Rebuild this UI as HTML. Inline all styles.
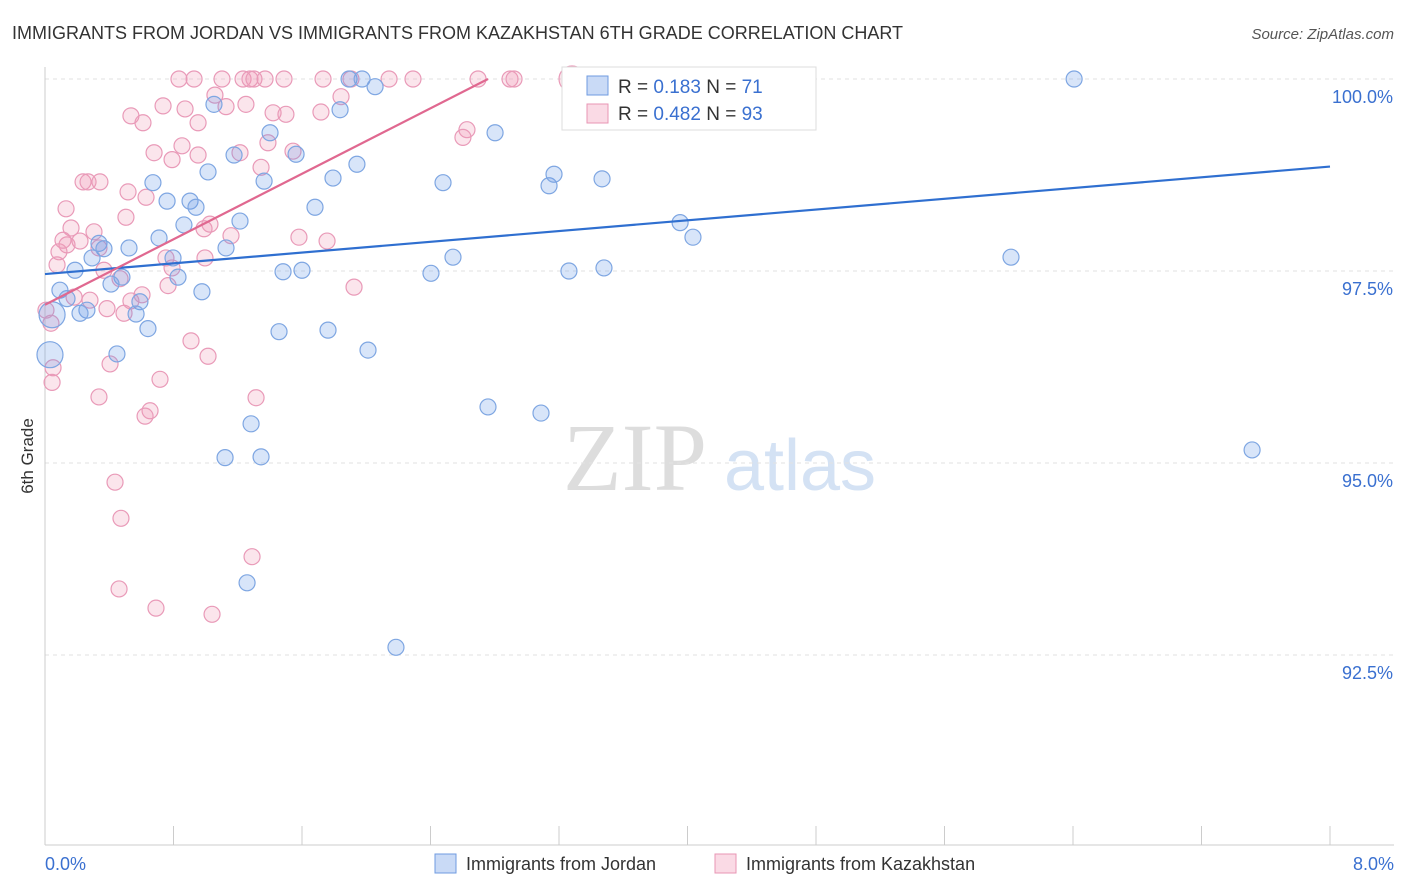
<!DOCTYPE html>
<html><head><meta charset="utf-8"><style>
body{margin:0;background:#fff;font-family:"Liberation Sans",sans-serif;}
#wrap{position:relative;width:1406px;height:892px;overflow:hidden;}
</style></head><body>
<div id="wrap">
<svg id="svg" width="1406" height="892" xmlns="http://www.w3.org/2000/svg">
<text x="12" y="39" font-size="18" fill="#333">IMMIGRANTS FROM JORDAN VS IMMIGRANTS FROM KAZAKHSTAN 6TH GRADE CORRELATION CHART</text>
<text x="1394" y="39" font-size="15" fill="#555" font-style="italic" text-anchor="end">Source: ZipAtlas.com</text>
<text x="33" y="456" font-size="17" fill="#333" text-anchor="middle" transform="rotate(-90 33 456)">6th Grade</text>
<text x="635" y="490" font-size="96" fill="#ddd" font-family="Liberation Serif" text-anchor="middle">ZIP</text>
<text x="800" y="490" font-size="72" fill="#d4e2f4" text-anchor="middle">atlas</text>
<g id="grid"></g><g id="axes"></g><g id="pts"></g><g id="lines"></g>
<g>
<rect x="562" y="67" width="254" height="63" fill="#fff" stroke="#ddd"/>
<rect x="587" y="76" width="21" height="19" fill="rgba(100,150,230,0.35)" stroke="#6f9be0"/>
<rect x="587" y="104" width="21" height="19" fill="rgba(240,150,180,0.35)" stroke="#e896b4"/>
<text x="618" y="93" font-size="19" fill="#333">R = <tspan fill="#3a70d0">0.183</tspan>   N = <tspan fill="#3a70d0">71</tspan></text>
<text x="618" y="120" font-size="19" fill="#333">R = <tspan fill="#3a70d0">0.482</tspan>   N = <tspan fill="#3a70d0">93</tspan></text>
</g>
<g>
<rect x="435" y="854" width="21" height="19" fill="rgba(100,150,230,0.35)" stroke="#6f9be0"/>
<text x="466" y="870" font-size="18" fill="#333">Immigrants from Jordan</text>
<rect x="715" y="854" width="21" height="19" fill="rgba(240,150,180,0.35)" stroke="#e896b4"/>
<text x="746" y="870" font-size="18" fill="#333">Immigrants from Kazakhstan</text>
</g>
<text x="45" y="870" font-size="18" fill="#3a70d0">0.0%</text>
<text x="1394" y="870" font-size="18" fill="#3a70d0" text-anchor="end">8.0%</text>
</svg>
</div>
<script>
const yTicks=[100,97.5,95,92.5];
const yTickLabels=["100.0%","97.5%","95.0%","92.5%"];
const jordanX=[1.893,1.974,3.723,4.327,6.407,2.055,1.052,1.837,2.802,1.401,1.563,1.177,1.942,1.015,1.793,1.364,2.478,3.138,3.169,3.468,0.672,0.760,0.903,0.940,1.681,1.214,0.865,3.954,4.034,0.710,0.336,0.523,0.367,1.127,0.293,0.797,2.540,6.014,0.187,1.482,1.600,2.403,3.262,3.480,0.479,0.828,0.411,0.093,0.977,0.137,0.591,0.261,0.218,0.567,0.044,0.641,1.457,1.762,2.011,0.448,0.031,2.758,3.088,1.283,1.121,1.345,7.515,1.258,2.185];
const jordanY=[100,100,100,100,100,99.90,99.67,99.60,99.30,99.30,99.02,99.01,98.89,98.79,98.71,98.67,98.65,98.61,98.76,98.70,98.65,98.41,98.41,98.33,98.33,98.15,98.10,98.13,97.94,97.93,97.86,97.80,97.79,97.80,97.67,97.67,97.68,97.68,97.51,97.49,97.51,97.47,97.50,97.54,97.42,97.42,97.33,97.25,97.23,97.14,97.10,96.99,96.95,96.94,96.93,96.75,96.71,96.73,96.47,96.42,96.41,95.73,95.65,95.51,95.07,95.08,95.17,93.44,92.60];
const jordanBig=[54,60];
const kazX=[0.834,0.928,1.102,1.233,1.276,1.301,1.370,1.488,1.731,1.905,2.142,2.291,2.696,2.895,2.920,3.281,1.058,1.843,0.735,0.872,1.127,1.251,1.420,1.500,1.718,0.535,0.610,0.953,2.627,2.602,1.388,0.853,0.679,1.544,1.214,0.791,0.953,1.345,0.237,0.268,0.342,0.517,0.629,0.131,0.504,0.162,0.305,1.158,0.990,1.027,1.581,1.756,0.218,0.137,0.087,0.336,0.753,0.996,0.075,0.367,0.791,0.467,0.766,1.924,0.280,0.181,0.535,0.604,0.386,0.492,0.037,0.909,1.015,0.405,0.050,0.044,0.716,0.336,1.314,0.654,0.623,0.436,0.473,1.289,0.461,0.691,1.040,0.112,0.006];
const kazY=[100,100,100,100,100,100,100,100,100,100,100,100,100,100,100,100,99.79,99.77,99.65,99.61,99.64,99.67,99.56,99.54,99.57,99.52,99.43,99.43,99.34,99.24,99.17,99.13,99.04,99.06,99.04,98.95,99.01,98.85,98.66,98.66,98.66,98.53,98.46,98.31,98.20,98.06,98.01,97.96,98.05,98.11,97.94,97.89,97.89,97.84,97.75,97.80,97.67,97.67,97.58,97.51,97.54,97.40,97.31,97.29,97.12,97.16,97.11,97.19,97.01,96.95,96.82,96.59,96.39,96.29,96.24,96.05,96.09,95.86,95.85,95.68,95.61,94.75,94.28,93.78,93.36,93.11,93.03,97.90,96.99];
const kazBig=[15];
const jordanTrend=[[0,97.46],[8,98.86]];
const kazTrend=[[0,97.06],[2.758,100]];

const X0=45,X1=1330,Y100=79,PPU=76.8;
const sx=v=>X0+(v/8)*(X1-X0);
const sy=v=>Y100+(100-v)*PPU;
const NS="http://www.w3.org/2000/svg";
function mk(tag,attrs,parent){const e=document.createElementNS(NS,tag);for(const k in attrs)e.setAttribute(k,attrs[k]);parent.appendChild(e);return e;}
const grid=document.getElementById('grid'),axes=document.getElementById('axes'),pts=document.getElementById('pts'),lines=document.getElementById('lines');
yTicks.forEach((t,i)=>{
  const l=mk('line',{x1:X0,x2:1394,y1:sy(t),y2:sy(t),stroke:'#e2e2e2','stroke-dasharray':'4,4'},grid);
  
  
  const tx=mk('text',{x:1393,y:sy(t)+24,'font-size':18,fill:'#3a70d0','text-anchor':'end'},grid);
  tx.textContent=yTickLabels[i];
  
  
});
const ya=mk('line',{x1:X0,x2:X0,y1:67,y2:845,stroke:'#ccc'},axes);


const xa=mk('line',{x1:X0,x2:1394,y1:845,y2:845,stroke:'#ccc'},axes);


for(let i=0;i<=10;i++){
  const tk=mk('line',{x1:sx(i*0.8),x2:sx(i*0.8),y1:826,y2:845,stroke:'#ccc'},axes);
  
  
}
function dots(xs,ys,big,fill,stroke,name){
  xs.forEach((x,i)=>{
    const c=mk('circle',{cx:sx(x),cy:sy(ys[i]),r:big.includes(i)?13:8,fill:fill,stroke:stroke,'stroke-width':1.2},pts);
    
    
  });
}
dots(kazX,kazY,kazBig,'rgba(240,150,180,0.25)','#e99ab8','kazakhstan-point');
dots(jordanX,jordanY,jordanBig,'rgba(100,150,230,0.25)','#7ea6e2','jordan-point');
const jl=mk('line',{x1:sx(jordanTrend[0][0]),y1:sy(jordanTrend[0][1]),x2:sx(jordanTrend[1][0]),y2:sy(jordanTrend[1][1]),stroke:'#2f6fd0','stroke-width':2.2},lines);


const kl=mk('line',{x1:sx(kazTrend[0][0]),y1:sy(kazTrend[0][1]),x2:sx(kazTrend[1][0]),y2:sy(kazTrend[1][1]),stroke:'#e06890','stroke-width':2.2},lines);


</script>
</body></html>
